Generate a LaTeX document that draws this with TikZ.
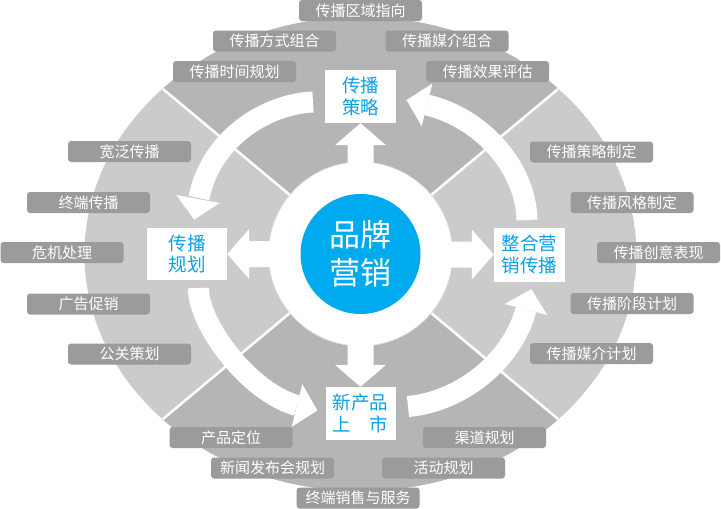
\documentclass[tikz,border=0pt]{standalone}
\usepackage{fontspec}
\newfontfamily\cjk{Noto Sans CJK SC}
\definecolor{lightsec}{HTML}{CBCBCB}
\definecolor{darksec}{HTML}{B5B5B5}
\definecolor{tagfill}{HTML}{9B9B9B}
\definecolor{brandblue}{HTML}{00AAEF}
\definecolor{textblue}{HTML}{0AA0E6}
\tikzset{
  tag/.style={fill=tagfill, rounded corners=3pt, minimum width=123pt, minimum height=21pt,
    inner sep=0pt, text=white, font=\cjk\fontsize{15}{18}\selectfont},
  stage/.style={fill=white, minimum width=71pt, minimum height=53pt, inner sep=0pt,
    text=textblue, align=center, font=\cjk\fontsize{18.5}{21.5}\selectfont},
  band/.style={draw=white, line width=21pt},
  divider/.style={draw=white, line width=2.5pt},
  blockarrow/.style={fill=white},
}
\begin{document}
\begin{tikzpicture}[x=1pt,y=-1pt]
\useasboundingbox (0,0) rectangle (721,509);
\coordinate (c) at (360.5,254);
% sectors
\begin{scope}
  \clip (c) ellipse [x radius=276pt, y radius=237pt];
  \fill[lightsec] (c) ellipse [x radius=276pt, y radius=237pt];
  \fill[darksec] (c) -- (-35,-76) -- (756,-76) -- cycle;
  \fill[darksec] (c) -- (-35,584) -- (756,584) -- cycle;
\end{scope}
\coordinate (ul) at (163,89);
\coordinate (ur) at (558,89);
\coordinate (ll) at (163,419);
\coordinate (lr) at (558,419);
\draw[divider] (c) -- (ul);
\draw[divider] (c) -- (ur);
\draw[divider] (c) -- (ll);
\draw[divider] (c) -- (lr);
% ring
\fill[white] (c) circle [radius=92pt];
\draw[black!12, line width=0.7pt] (c) circle [radius=92pt];

% stage boxes
\node[stage] (strategy) at (360.5,96.5) {传播\\策略};
\node[stage, minimum width=80pt, minimum height=52pt] (plan) at (187,254) {传播\\规划};
\node[stage, minimum height=54pt] (integ) at (529.5,254.5) {整合营\\销传播};
\node[stage, minimum width=70pt] (launch) at (360.5,413.5) {新产品\\上\quad 市};

% block arrows
\fill[blockarrow] (strategy.south) -- ++(25.5,22) -- ++(-12.5,0) -- ++(0,30) -- ++(-26,0) -- ++(0,-30) -- ++(-12.5,0) -- cycle;
\fill[blockarrow] (launch.north) -- ++(25.5,-22) -- ++(-12.5,0) -- ++(0,-30) -- ++(-26,0) -- ++(0,30) -- ++(-12.5,0) -- cycle;
\fill[blockarrow] (plan.east) -- ++(22,-25) -- ++(0,12) -- ++(30,0) -- ++(0,26) -- ++(-30,0) -- ++(0,12) -- cycle;
\fill[blockarrow] (integ.west) -- ++(-22,-25) -- ++(0,12) -- ++(-30,0) -- ++(0,26) -- ++(30,0) -- ++(0,12) -- cycle;

% centre
\node[circle, fill=brandblue, minimum size=120pt, inner sep=0pt, text=white, align=center,
  font=\cjk\fontsize{31}{38}\selectfont] (brand) at (c) {品牌\\营销};

% curved arrows
\coordinate (t1) at (313,102);   \coordinate (b1) at (199,198);
\draw[band] (t1) .. controls (265,104) and (210,140) .. (b1);
\fill[white] (219.6,203) -- (194.2,219.6) -- (176.4,195) -- cycle;

\coordinate (t2) at (198.5,288); \coordinate (b2) at (297,405.5);
\draw[band] (t2) .. controls (198,325) and (250,393) .. (b2);
\fill[white] (291.7,426.8) -- (317.4,410.5) -- (302.3,384.2) -- cycle;

\coordinate (t3) at (408,406.5); \coordinate (b3) at (526,309.5);
\draw[band] (t3) .. controls (460,402) and (512,362) .. (b3);
\fill[white] (547.3,315) -- (531.3,289.1) -- (504.7,304) -- cycle;

\coordinate (t4) at (527,220);   \coordinate (b4) at (427,105);
\draw[band] (t4) .. controls (526,168) and (482,118) .. (b4);
\fill[white] (432.3,83.7) -- (406.6,100) -- (421.7,126.3) -- cycle;

% tags
\node[tag] (g1) at (360.5,10.5) {传播区域指向};
\node[tag] (g2) at (274.5,41) {传播方式组合};
\node[tag] (g3) at (447,41) {传播媒介组合};
\node[tag] (g4) at (234.5,71.5) {传播时间规划};
\node[tag] (g5) at (487.5,71.5) {传播效果评估};
\node[tag] (g6) at (129.5,151.5) {宽泛传播};
\node[tag] (g7) at (88.5,202.5) {终端传播};
\node[tag] (g8) at (62,252.5) {危机处理};
\node[tag] (g9) at (88.5,304) {广告促销};
\node[tag] (g10) at (129.5,354) {公关策划};
\node[tag] (g11) at (231,437.5) {产品定位};
\node[tag] (g12) at (272.5,468) {新闻发布会规划};
\node[tag] (g13) at (358,498) {终端销售与服务};
\node[tag] (g14) at (443.5,468) {活动规划};
\node[tag] (g15) at (484.5,437.5) {渠道规划};
\node[tag] (g16) at (591.5,152) {传播策略制定};
\node[tag] (g17) at (632,202.5) {传播风格制定};
\node[tag] (g18) at (658.5,252.5) {传播创意表现};
\node[tag] (g19) at (632,303.5) {传播阶段计划};
\node[tag] (g20) at (591.5,353.5) {传播媒介计划};
\end{tikzpicture}
\end{document}
